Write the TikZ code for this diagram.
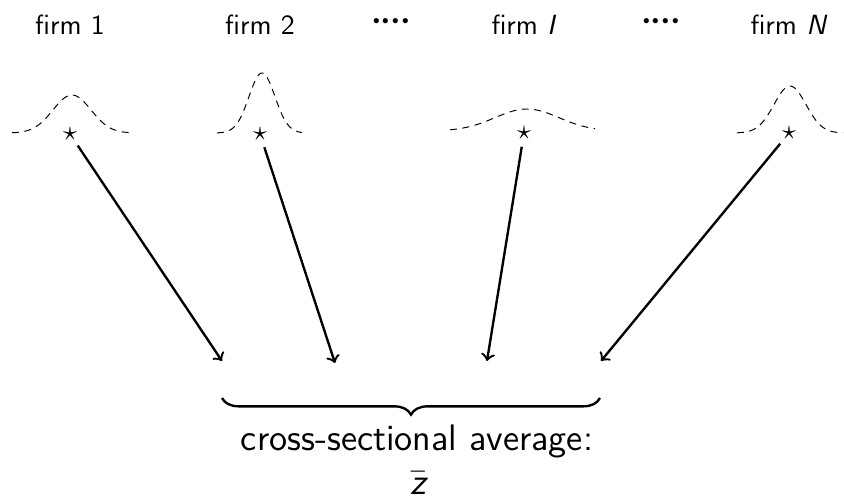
\documentclass[tikz,border=0pt]{standalone}
\usetikzlibrary{decorations.pathreplacing}
\newcommand{\fourdots}{$\mathord{\cdotp}\mkern-0.5mu\mathord{\cdotp}\mkern-0.5mu\mathord{\cdotp}\mkern-0.5mu\mathord{\cdotp}$}
\begin{document}
\begin{tikzpicture}[x=0.36pt,y=-0.36pt,
  lbl/.style={font=\sffamily\fontsize{10}{12}\selectfont, inner sep=0pt},
  dotsl/.style={font=\fontsize{12}{14}\selectfont\boldmath, inner sep=0pt},
  starn/.style={font=\fontsize{10}{11}\selectfont, inner sep=0pt},
  dens/.style={line width=0.35pt, dash pattern=on 2.5pt off 2pt},
  arr/.style={->, line width=0.85pt, shorten <=5pt},
  big/.style={font=\sffamily\fontsize{13.3}{16}\selectfont, inner sep=0pt}]
\useasboundingbox (0,0) rectangle (844,499);
% labels
\node[lbl] (f1) at (70,25) {firm 1};
\node[lbl] (f2) at (260,25) {firm 2};
\node[dotsl] (d1) at (391,22) {\fourdots};
\node[lbl] (fI) at (524,25) {firm \textit{I}};
\node[dotsl] (d2) at (661,22) {\fourdots};
\node[lbl] (fN) at (789,25) {firm \textit{N}};
% densities
\draw[dens] plot[domain=-60:60, samples=60, smooth] ({72+\x},{133-38*exp(-(\x*\x)/(2*19*19))});
\draw[dens] plot[domain=-45:40, samples=60, smooth] ({262+\x},{133-60*exp(-(\x*\x)/(2*13*13))});
\draw[dens] plot[domain=-77:68, samples=60, smooth] ({527+\x},{131-22*exp(-(\x*\x)/(2*32*32))});
\draw[dens] plot[domain=-53:53, samples=60, smooth] ({790+\x},{133-47*exp(-(\x*\x)/(2*16*16))});
% stars
\node[starn] (s1) at (70,134) {$\star$};
\node[starn] (s2) at (260,134) {$\star$};
\node[starn] (sI) at (524,133) {$\star$};
\node[starn] (sN) at (789,133) {$\star$};
% arrow ends
\coordinate (e1) at (222,361);
\coordinate (e2) at (335,363);
\coordinate (eI) at (487,361);
\coordinate (eN) at (601,361);
\draw[arr] (s1.center) -- (e1);
\draw[arr] (s2.center) -- (e2);
\draw[arr] (sI.center) -- (eI);
\draw[arr] (sN.center) -- (eN);
% brace
\coordinate (bl) at (222,398);
\coordinate (br) at (600,398);
\draw[line width=0.85pt, decorate, decoration={brace, mirror, amplitude=6pt}] (bl) -- (br);
\node[big, anchor=base] (avg) at (417,450) {cross-sectional average:};
\node[big, anchor=base] (zb) at (418,494) {$\bar{\mbox{\sffamily\itshape z}}$};
\end{tikzpicture}
\end{document}
